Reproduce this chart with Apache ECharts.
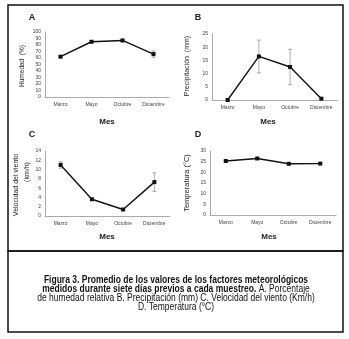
<!DOCTYPE html>
<html><head><meta charset="utf-8">
<script src="https://cdn.jsdelivr.net/npm/echarts@6/dist/echarts.min.js"></script>
<style>html,body{margin:0;padding:0;background:#fff}#c{width:349px;height:339px}</style>
</head><body><div id="c"></div>
<script>
var months = ['Marzo','Mayo','Octubre','Diciembre'];
var humedad = [62, 85, 87, 66];
var humedadErr = [1, 1.5, 2, 5];
var precip = [0, 16.5, 12.5, 0.5];
var precipErr = [0, 6.2, 6.7, 0];
var viento = [11, 3.6, 1.4, 7.3];
var vientoErr = [0.7, 0.2, 0.2, 2];
var temp = [25.3, 26.5, 24, 24.1];
var tempErr = [0.5, 0.4, 0.3, 0.3];
var yTicksA = {min:0, max:100, interval:10};
var yTicksB = {min:0, max:25, interval:5};
var yTicksC = {min:0, max:14, interval:2};
var yTicksD = {min:0, max:30, interval:5};

var chart = echarts.init(document.getElementById('c'));
var tickFont = {fontSize:5, color:'#444', fontFamily:'Liberation Sans'};
function xAx(i){return {type:'category', gridIndex:i, data:months, axisLine:{lineStyle:{color:'#aaa', width:1}}, axisTick:{show:false}, axisLabel:Object.assign({margin:5, interval:0}, tickFont)};}
function yAx(i,t){return {type:'value', gridIndex:i, min:t.min, max:t.max, interval:t.interval, axisLine:{show:true, lineStyle:{color:'#aaa', width:1}}, axisTick:{show:false}, splitLine:{show:false}, axisLabel:Object.assign({margin:4}, tickFont)};}
function lineS(i,d){return {type:'line', xAxisIndex:i, yAxisIndex:i, data:d, symbol:'rect', symbolSize:4, itemStyle:{color:'#111'}, lineStyle:{color:'#111', width:1.4}, z:3, animation:false};}
function errS(i,v,e){
  var d = v.map(function(x,k){return [k, x-e[k], x+e[k]];});
  return {type:'custom', xAxisIndex:i, yAxisIndex:i, data:d, z:2, animation:false,
    renderItem:function(p,api){
      var lo = api.coord([api.value(0), api.value(1)]);
      var hi = api.coord([api.value(0), api.value(2)]);
      var w = 2;
      var st = {stroke:'#999', lineWidth:0.8};
      return {type:'group', children:[
        {type:'line', shape:{x1:lo[0],y1:lo[1],x2:hi[0],y2:hi[1]}, style:st},
        {type:'line', shape:{x1:lo[0]-w,y1:lo[1],x2:lo[0]+w,y2:lo[1]}, style:st},
        {type:'line', shape:{x1:hi[0]-w,y1:hi[1],x2:hi[0]+w,y2:hi[1]}, style:st}
      ]};
    }};
}
function txt(x,y,s,opt){
  return {type:'text', x:x, y:y, style:Object.assign({text:s, fill:'#222', font:'bold 8px "Liberation Sans"', textAlign:'center', textVerticalAlign:'middle'}, opt||{})};
}
function rtxt(x,y,s,fs){
  return {type:'text', x:x, y:y, rotation:Math.PI/2, style:{text:s, fill:'#222', font:(fs||7)+'px "Liberation Sans"', textAlign:'center', textVerticalAlign:'middle'}};
}
var capFont = '"Liberation Sans","DejaVu Sans Condensed",sans-serif';
chart.setOption({
  animation:false,
  grid:[
    {left:45, top:32, width:124, height:65},
    {left:212, top:34, width:125, height:66},
    {left:45, top:151, width:125, height:65},
    {left:210, top:151, width:126, height:64}
  ],
  xAxis:[xAx(0),xAx(1),xAx(2),xAx(3)],
  yAxis:[yAx(0,yTicksA),yAx(1,yTicksB),yAx(2,yTicksC),yAx(3,yTicksD)],
  series:[errS(0,humedad,humedadErr),lineS(0,humedad),
          errS(1,precip,precipErr),lineS(1,precip),
          errS(2,viento,vientoErr),lineS(2,viento),
          errS(3,temp,tempErr),lineS(3,temp)],
  graphic:[
    {type:'rect', shape:{x:8, y:5, width:335, height:246}, style:{fill:'none', stroke:'#111', lineWidth:1.5}},
    {type:'rect', shape:{x:8, y:251, width:335, height:81}, style:{fill:'none', stroke:'#111', lineWidth:1.5}},
    txt(32,18,'A',{font:'bold 9px "Liberation Sans"'}),
    txt(198,18,'B',{font:'bold 9px "Liberation Sans"'}),
    txt(32,135,'C',{font:'bold 9px "Liberation Sans"'}),
    txt(198,135,'D',{font:'bold 9px "Liberation Sans"'}),
    txt(107,122,'Mes'), txt(268,122,'Mes'), txt(107,237,'Mes'), txt(269,237,'Mes'),
    rtxt(22,66,'Humedad  (%)',6.5),
    rtxt(187,66,'Precipitación  (mm)',7),
    rtxt(16,185,'Velocidad del viento',7),
    rtxt(27,172,'(km/h)',7),
    rtxt(187,183,'Temperatura (°C)',7.5),
    {type:'text', x:176, y:293.5, scaleX:0.81, style:{
      text:'{b|Figura 3. Promedio de los valores de los factores meteorológicos}\n{b|medidos durante siete días previos a cada muestreo.}{n| A. Porcentaje}\n{n|de humedad relativa B. Precipitación (mm) C. Velocidad del viento (Km/h)}\n{n|D. Temperatura (°C)}',
      textAlign:'center', textVerticalAlign:'middle', align:'center', verticalAlign:'middle',
      rich:{
        b:{fontFamily:capFont, fontWeight:'bold', fontSize:10.5, lineHeight:9.2, fill:'#111'},
        n:{fontFamily:capFont, fontWeight:'normal', fontSize:10.5, lineHeight:9.2, fill:'#111'}
      }
    }}
  ]
});
</script></body></html>
